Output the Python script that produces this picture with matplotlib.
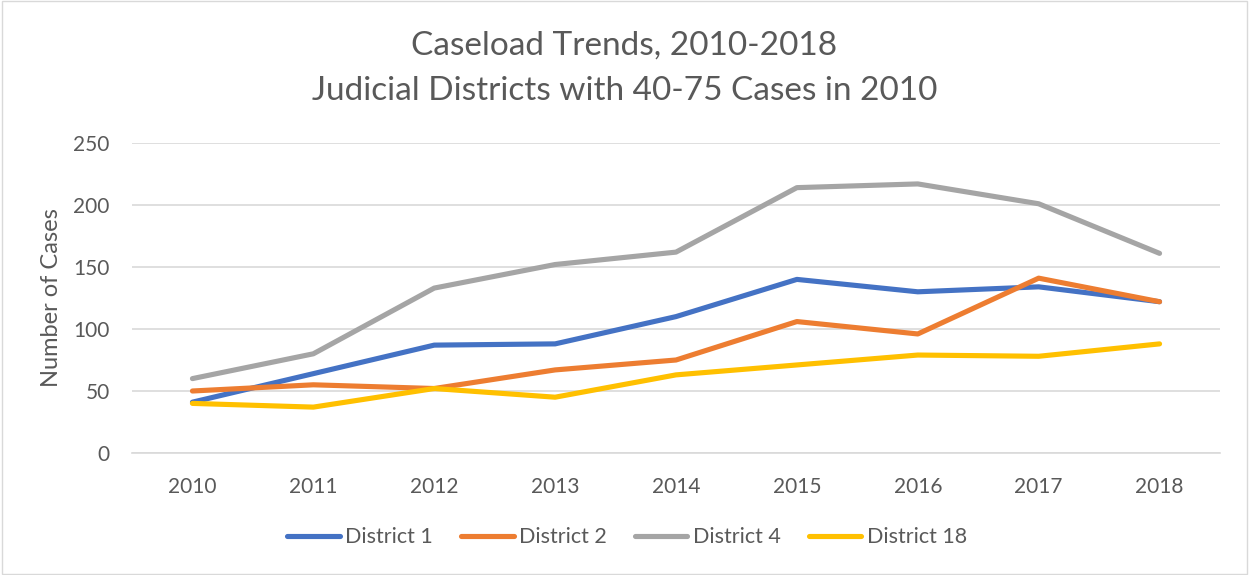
import matplotlib
matplotlib.use("Agg")
import matplotlib.pyplot as plt
from matplotlib.patches import Rectangle

years = ["2010", "2011", "2012", "2013", "2014", "2015", "2016", "2017", "2018"]
district_1 = [41, 64, 87, 88, 110, 140, 130, 134, 122]
district_2 = [50, 55, 52, 67, 75, 106, 96, 141, 122]
district_4 = [60, 80, 133, 152, 162, 214, 217, 201, 161]
district_18 = [40, 37, 52, 45, 63, 71, 79, 78, 88]
series_names = ["District 1", "District 2", "District 4", "District 18"]
colors = ["#4472C4", "#ED7D31", "#A5A5A5", "#FFC000"]

plt.rcParams['font.family'] = ['Lato', 'DejaVu Sans']
text_color = "#595959"

fig = plt.figure(figsize=(12.49, 5.75), dpi=100)
fig.patches.append(Rectangle((0.0015, 0.002), 0.997, 0.996, transform=fig.transFigure,
                             fill=False, edgecolor="#D9D9D9", linewidth=1.0))
ax = fig.add_axes([132/1249, (575-453)/575, (1220-132)/1249, 310/575])

x = list(range(len(years)))
for vals, name, c in zip([district_1, district_2, district_4, district_18], series_names, colors):
    ax.plot(x, vals, color=c, linewidth=3.7, solid_capstyle='round', solid_joinstyle='round', label=name)

ax.set_xlim(-0.5, len(years) - 0.5)
ax.set_ylim(0, 250)
ax.set_yticks([0, 50, 100, 150, 200, 250])
ax.set_xticks(x)
ax.set_xticklabels(years)
ax.yaxis.grid(True, color="#D9D9D9", linewidth=1.2)
ax.set_axisbelow(True)
for s in ["top", "right", "left"]:
    ax.spines[s].set_visible(False)
ax.spines["bottom"].set_color("#D9D9D9")
ax.spines["bottom"].set_linewidth(1.2)
ax.tick_params(axis='both', length=0, labelsize=15, labelcolor=text_color)
ax.tick_params(axis='x', pad=17)
ax.tick_params(axis='y', pad=16)
ax.set_ylabel("Number of Cases", fontsize=17, color=text_color, labelpad=8)

fig.text(0.5, 0.921, "Caseload Trends, 2010-2018", ha='center', va='center', fontsize=24, color=text_color)
fig.text(0.5, 0.842, "Judicial Districts with 40-75 Cases in 2010", ha='center', va='center', fontsize=24, color=text_color)

leg = fig.legend(loc='center', bbox_to_anchor=(0.502, 0.066), ncol=4, frameon=False,
                 fontsize=15.5, handlelength=2.45, columnspacing=1.3, handletextpad=0.25)
for t in leg.get_texts():
    t.set_color(text_color)

fig.savefig("out.png", dpi=100)
